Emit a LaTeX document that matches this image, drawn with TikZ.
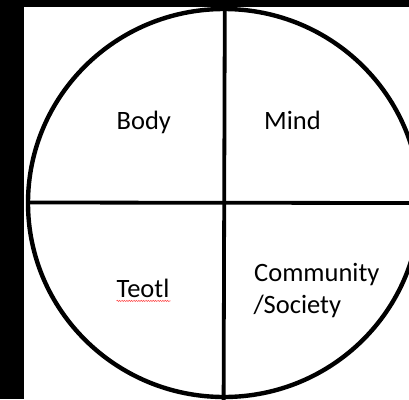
\documentclass[tikz,border=0pt]{standalone}
\usepackage{fontspec}
\setmainfont{Carlito}
\usetikzlibrary{decorations.pathmorphing}

\begin{document}
\begin{tikzpicture}[x=1pt, y=-1pt,
    quadtext/.style={anchor=base west, inner sep=0pt, text=black,
      font=\fontsize{26.5}{31.5}\selectfont},
    divider/.style={line width=3.8pt}]
  \useasboundingbox (0,0) rectangle (409,399);
  \fill[black] (0,0) rectangle (409,399);
  \clip (0,0) rectangle (409,399);
  \fill[white] (24,7) rectangle (409,399);
  % --- the circle and its two diameters ---
  \draw[line width=4.4pt] (224,203) ellipse [x radius=196, y radius=194];
  \coordinate (top) at (224.8,6);
  \coordinate (bottom) at (223.6,400);
  \coordinate (left) at (27,202.5);
  \coordinate (right) at (410,203);
  \draw[divider] (top) -- (bottom);
  \draw[divider] (left) -- (right);
  % --- quadrant labels ---
  \foreach \name/\x/\y/\txt in {
      body/116.5/129.3/Body,
      mind/264/129.3/Mind,
      teotl/116.5/297.3/Teotl,
      community/254/281.7/Community,
      society/253.3/313.2/{/Society}}
    {\node[quadtext] (\name) at (\x,\y) {\txt};}
  % --- spell-check squiggle under Teotl ---
  \draw[red!75, line width=0.5pt, decorate,
      decoration={snake, amplitude=0.6pt, segment length=2.4pt}]
    ([yshift=-3.6pt]teotl.base west) -- ([yshift=-3.6pt, xshift=1pt]teotl.base east);
\end{tikzpicture}
\end{document}
